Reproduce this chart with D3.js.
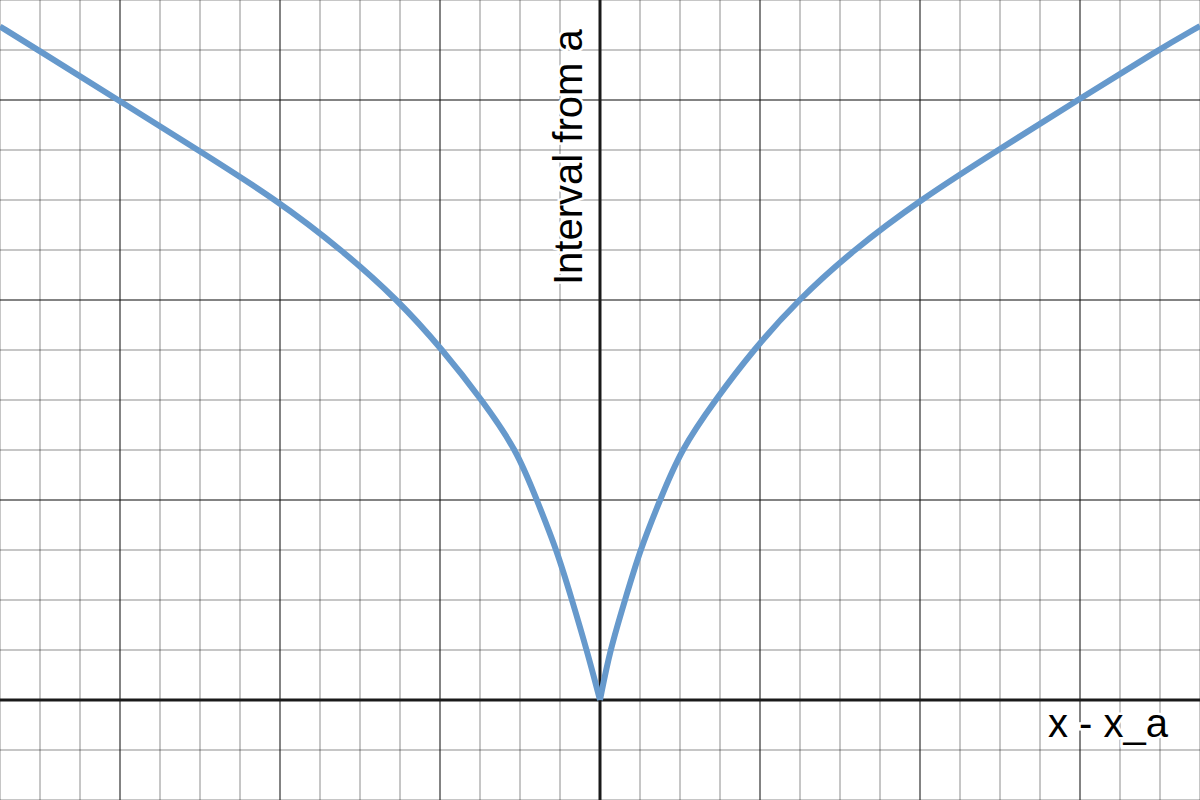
<!DOCTYPE html>
<html>
<head>
<meta charset="utf-8">
<script src="https://cdn.jsdelivr.net/npm/d3@7"></script>
<style>
  html, body { margin: 0; padding: 0; background: #fff; }
  svg { display: block; }
  text { font-family: "Liberation Sans", Arial, Helvetica, sans-serif; }
</style>
</head>
<body>
<svg id="chart" width="1200" height="800"></svg>
<script>
// ---- data (grid units: x minor = 1, y minor = 1) ----
const xMinorTicks = d3.range(-15, 16, 1);
const xMajorTicks = [-12, -8, -4, 4, 8, 12];
const yMinorTicks = d3.range(-2, 15, 1);
const yMajorTicks = [4, 8, 12];

// left branch (x < 0)
const leftX = [-15, -14.05, -12.05, -10.05, -8.08, -6.45, -5.05, -3.93, -2.95, -2.08, -1.58, -1.08, -0.7, -0.33, 0];
const leftY = [13.47, 13, 12, 11, 10, 9, 8, 7, 6, 5, 4, 3, 2, 1, 0];
// right branch (x > 0)
const rightX = [0, 0.25, 0.625, 1.0, 1.5, 2.02, 2.88, 3.83, 4.95, 6.33, 8.0, 9.95, 11.95, 13.95, 15];
const rightY = [0, 1, 2, 3, 4, 5, 6, 7, 8, 9, 10, 11, 12, 13, 13.48];

const xLabel = "x - x_a";
const yLabel = "Interval from a";

// ---- drawing ----
const W = 1200, H = 800;
const svg = d3.select("#chart");
const x = d3.scaleLinear().domain([-15, 15]).range([0, W]);
const y = d3.scaleLinear().domain([-2, 14]).range([H, 0]);

const grid = svg.append("g");
grid.selectAll("line.vmin").data(xMinorTicks).join("line")
  .attr("x1", d => x(d)).attr("x2", d => x(d)).attr("y1", 0).attr("y2", H)
  .attr("stroke", "#000").attr("stroke-opacity", 0.3).attr("stroke-width", 1.5);
grid.selectAll("line.hmin").data(yMinorTicks).join("line")
  .attr("y1", d => y(d)).attr("y2", d => y(d)).attr("x1", 0).attr("x2", W)
  .attr("stroke", "#000").attr("stroke-opacity", 0.3).attr("stroke-width", 1.5);
grid.selectAll("line.vmaj").data(xMajorTicks).join("line")
  .attr("x1", d => x(d)).attr("x2", d => x(d)).attr("y1", 0).attr("y2", H)
  .attr("stroke", "#000").attr("stroke-opacity", 0.45).attr("stroke-width", 1.5);
grid.selectAll("line.hmaj").data(yMajorTicks).join("line")
  .attr("y1", d => y(d)).attr("y2", d => y(d)).attr("x1", 0).attr("x2", W)
  .attr("stroke", "#000").attr("stroke-opacity", 0.45).attr("stroke-width", 1.5);

// axes
svg.append("line").attr("x1", x(0)).attr("x2", x(0)).attr("y1", 0).attr("y2", H)
  .attr("stroke", "#1a1a1a").attr("stroke-width", 3);
svg.append("line").attr("x1", 0).attr("x2", W).attr("y1", y(0)).attr("y2", y(0))
  .attr("stroke", "#1a1a1a").attr("stroke-width", 3);

// labels with white halo
svg.append("text")
  .attr("transform", `translate(${x(0) - 18},${y(0) - 415}) rotate(-90)`)
  .attr("font-size", 40).attr("fill", "#000")
  .attr("stroke", "#fff").attr("stroke-width", 5).attr("paint-order", "stroke")
  .text(yLabel);
svg.append("text")
  .attr("x", W - 32).attr("y", y(0) + 37).attr("text-anchor", "end")
  .attr("font-size", 40).attr("fill", "#000")
  .attr("stroke", "#fff").attr("stroke-width", 5).attr("paint-order", "stroke")
  .text(xLabel);

// curve: two branches meeting in a cusp at the origin
const line = d3.line().x(d => x(d[0])).y(d => y(d[1])).curve(d3.curveBasis);
const branches = [
  leftX.map((v, i) => [v, leftY[i]]),
  rightX.map((v, i) => [v, rightY[i]])
];
svg.append("g").selectAll("path").data(branches).join("path")
  .attr("d", line)
  .attr("fill", "none")
  .attr("stroke", "#6699cc")
  .attr("stroke-width", 6)
  .attr("stroke-linejoin", "round")
  .attr("stroke-linecap", "butt");
</script>
</body>
</html>
